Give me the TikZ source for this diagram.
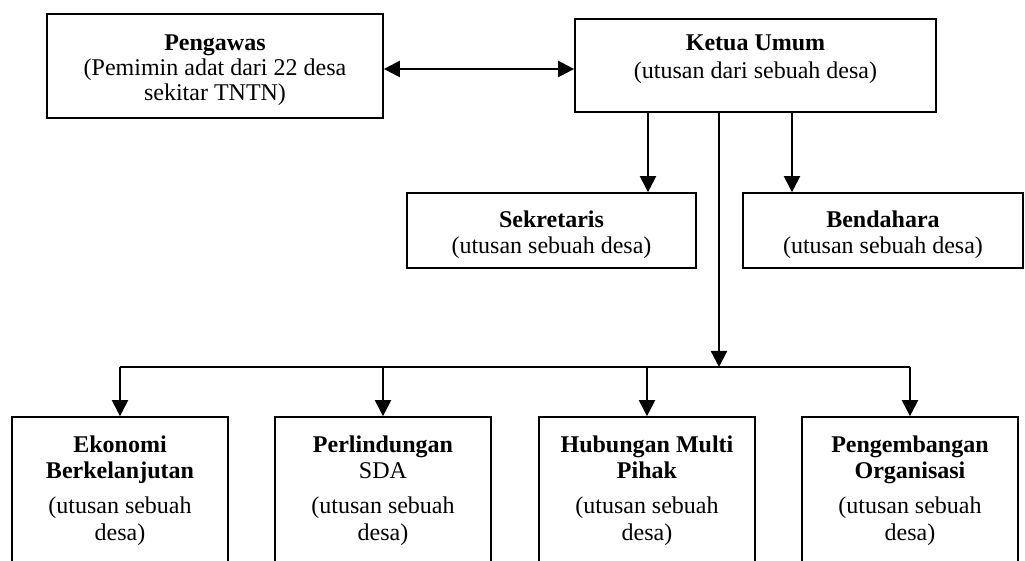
\documentclass[tikz,border=0pt]{standalone}
\usepackage{fontspec}
\setmainfont{Liberation Serif}
\usetikzlibrary{arrows.meta,calc}
\begin{document}
\begin{tikzpicture}[x=0.5pt,y=-0.5pt,
  box/.style={draw,line width=0.85pt,inner sep=0pt,rectangle},
  txt/.style={align=center,inner sep=0pt,anchor=north,font=\fontsize{12}{13}\selectfont},
  arr/.style={line width=1.1pt,-{Triangle[length=8pt,width=8pt]}},
  darr/.style={line width=1.1pt,{Triangle[length=8pt,width=8pt]}-{Triangle[length=8pt,width=8pt]}},
  busline/.style={line width=1.1pt}]
\useasboundingbox (0,0) rectangle (1025,561);
\clip (0,0) rectangle (1025,561);
% boxes
\node[box,minimum width=168pt,minimum height=52pt] (peng) at (215,66) {};
\node[box,minimum width=180.5pt,minimum height=46.5pt] (ketua) at (755.5,65.5) {};
\node[box,minimum width=144.5pt,minimum height=37.5pt] (sek) at (551.5,230.5) {};
\node[box,minimum width=140pt,minimum height=37.5pt] (bend) at (883,230.5) {};
\node[box,minimum width=108pt,minimum height=100pt] (eko) at (120,517) {};
\node[box,minimum width=108pt,minimum height=100pt] (perl) at (383,517) {};
\node[box,minimum width=108pt,minimum height=100pt] (hub) at (647,517) {};
\node[box,minimum width=108pt,minimum height=100pt] (org) at (910,517) {};
% texts
\node[txt,font=\fontsize{12}{12.5}\selectfont] (tpeng) at (215,34)
  {\textbf{Pengawas}\\(Pemimin adat dari 22 desa\\sekitar TNTN)};
\node[txt] (tketua) at (755.5,34) {\textbf{Ketua Umum}\\[1pt](utusan dari sebuah desa)};
\node[txt] (tsek) at (551.5,210.5) {\textbf{Sekretaris}\\(utusan sebuah desa)};
\node[txt] (tbend) at (883,210.5) {\textbf{Bendahara}\\(utusan sebuah desa)};
\node[txt] (teko) at (120,435) {\textbf{Ekonomi}\\\textbf{Berkelanjutan}\\[4.5pt](utusan sebuah\\[0.5pt]desa)};
\node[txt] (tperl) at (383,435) {\textbf{Perlindungan}\\SDA\\[4.5pt](utusan sebuah\\[0.5pt]desa)};
\node[txt] (thub) at (647,435) {\textbf{Hubungan Multi}\\\textbf{Pihak}\\[4.5pt](utusan sebuah\\[0.5pt]desa)};
\node[txt] (torg) at (910,435) {\textbf{Pengembangan}\\\textbf{Organisasi}\\[4.5pt](utusan sebuah\\[0.5pt]desa)};
% helper coordinates
\coordinate (ya) at (0,69);
\coordinate (xs) at (648,0);
\coordinate (xb) at (792,0);
\coordinate (bus) at (719,367);
% connectors
\draw[darr] (peng.east |- ya) -- (ketua.west |- ya);
\draw[arr] (ketua.south -| xs) -- (sek.north -| xs);
\draw[arr] (ketua.south -| xb) -- (bend.north -| xb);
\draw[arr] (ketua.south -| bus) -- (bus);
\draw[busline] (eko.north |- bus) -- (org.north |- bus);
\draw[arr] (eko.north |- bus) -- (eko.north);
\draw[arr] (perl.north |- bus) -- (perl.north);
\draw[arr] (hub.north |- bus) -- (hub.north);
\draw[arr] (org.north |- bus) -- (org.north);
\end{tikzpicture}
\end{document}
